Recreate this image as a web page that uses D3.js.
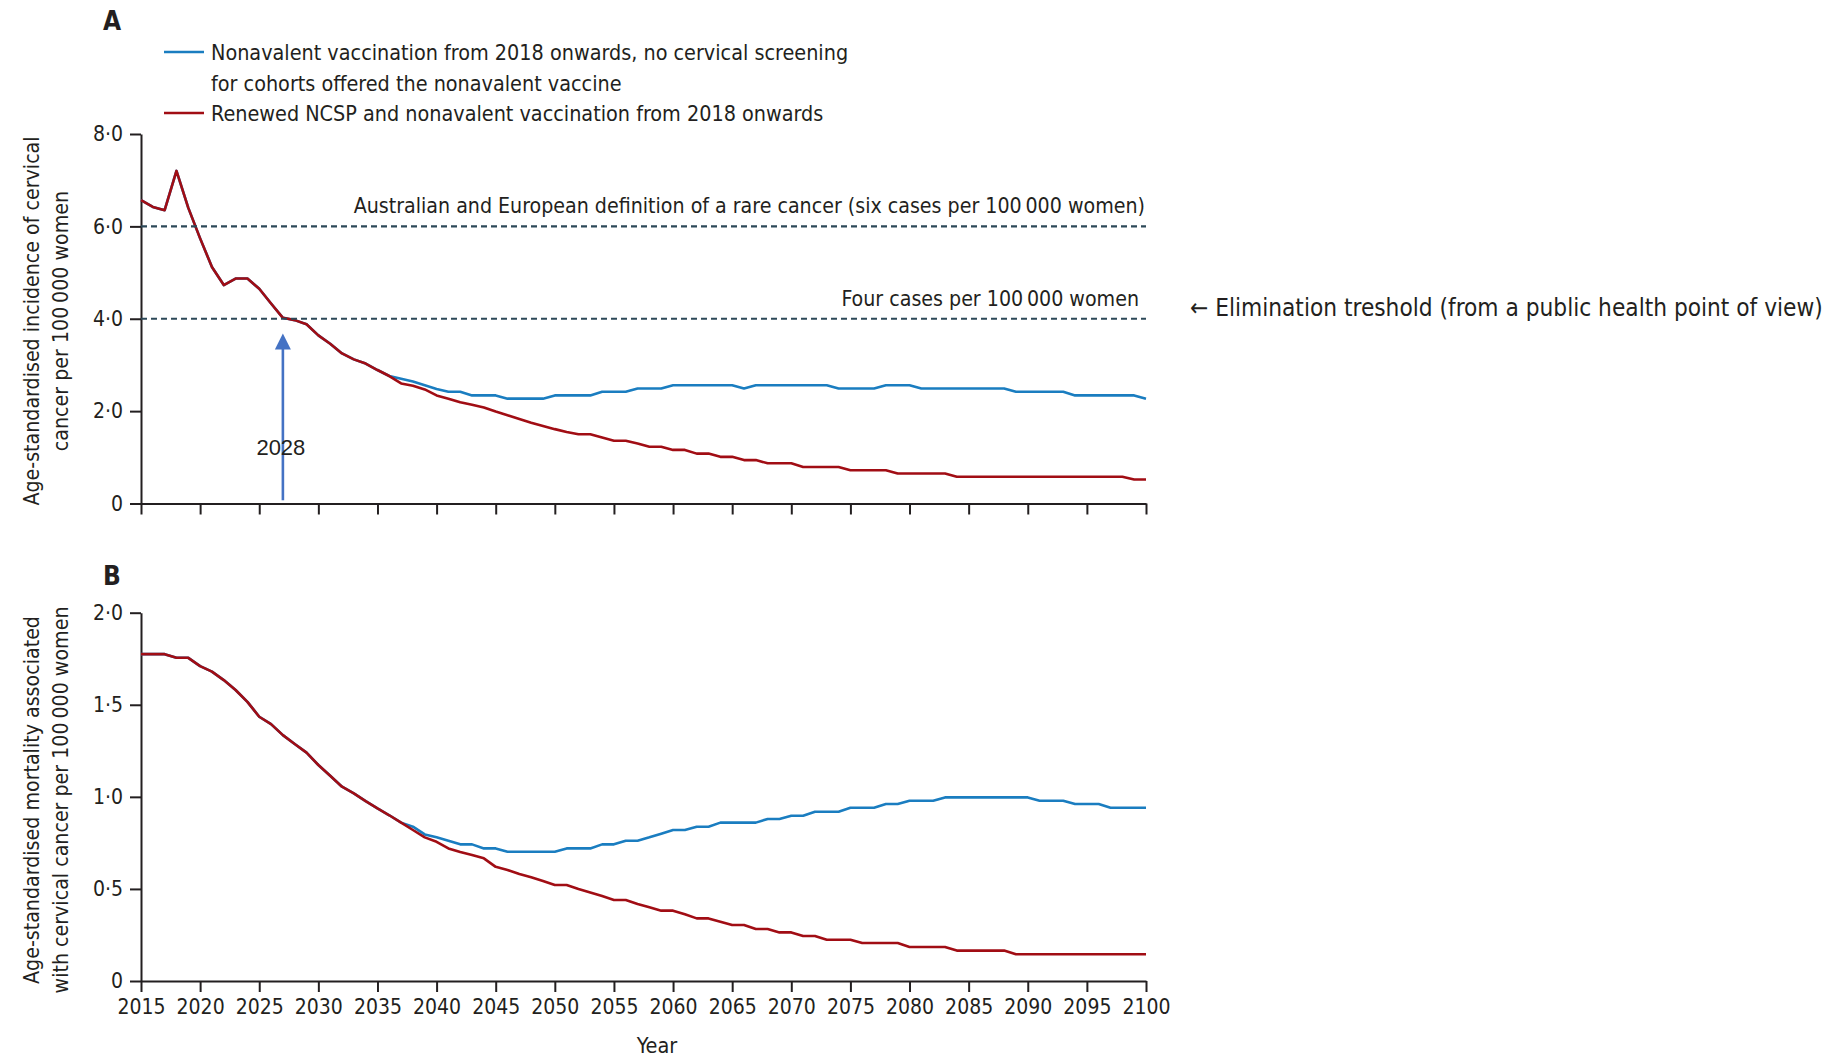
<!DOCTYPE html>
<html>
<head>
<meta charset="utf-8">
<script src="https://cdn.jsdelivr.net/npm/d3@7"></script>
<style>
  body { margin: 0; background: #fff; }
  text { font-family: "DejaVu Sans Condensed", "Liberation Sans Narrow", sans-serif; fill: #231f20; }
</style>
</head>
<body>
<script>
// Years of the projection
const years = [
  2015, 2016, 2017, 2018, 2019, 2020, 2021, 2022, 2023, 2024,
  2025, 2026, 2027, 2028, 2029, 2030, 2031, 2032, 2033, 2034,
  2035, 2036, 2037, 2038, 2039, 2040, 2041, 2042, 2043, 2044,
  2045, 2046, 2047, 2048, 2049, 2050, 2051, 2052, 2053, 2054,
  2055, 2056, 2057, 2058, 2059, 2060, 2061, 2062, 2063, 2064,
  2065, 2066, 2067, 2068, 2069, 2070, 2071, 2072, 2073, 2074,
  2075, 2076, 2077, 2078, 2079, 2080, 2081, 2082, 2083, 2084,
  2085, 2086, 2087, 2088, 2089, 2090, 2091, 2092, 2093, 2094,
  2095, 2096, 2097, 2098, 2099, 2100
];

// A: incidence, nonavalent vaccination, no screening for vaccinated cohorts
const incidenceNoScreening = [
  6.57, 6.42, 6.35, 7.20, 6.40, 5.74, 5.12, 4.73, 4.87, 4.87,
  4.65, 4.33, 4.02, 3.97, 3.88, 3.64, 3.46, 3.25, 3.12, 3.03,
  2.89, 2.76, 2.70, 2.64, 2.56, 2.48, 2.42, 2.42, 2.34, 2.34,
  2.34, 2.27, 2.27, 2.27, 2.27, 2.34, 2.34, 2.34, 2.34, 2.42,
  2.42, 2.42, 2.49, 2.49, 2.49, 2.56, 2.56, 2.56, 2.56, 2.56,
  2.56, 2.49, 2.56, 2.56, 2.56, 2.56, 2.56, 2.56, 2.56, 2.49,
  2.49, 2.49, 2.49, 2.56, 2.56, 2.56, 2.49, 2.49, 2.49, 2.49,
  2.49, 2.49, 2.49, 2.49, 2.42, 2.42, 2.42, 2.42, 2.42, 2.34,
  2.34, 2.34, 2.34, 2.34, 2.34, 2.27
];

// A: incidence, renewed NCSP + nonavalent vaccination
const incidenceNcsp = [
  6.57, 6.42, 6.35, 7.20, 6.40, 5.74, 5.12, 4.73, 4.87, 4.87,
  4.65, 4.33, 4.02, 3.97, 3.88, 3.64, 3.46, 3.25, 3.12, 3.03,
  2.89, 2.76, 2.60, 2.55, 2.47, 2.34, 2.27, 2.19, 2.14, 2.08,
  1.99, 1.91, 1.83, 1.75, 1.68, 1.61, 1.55, 1.50, 1.50, 1.43,
  1.36, 1.36, 1.30, 1.23, 1.23, 1.16, 1.16, 1.08, 1.08, 1.01,
  1.01, 0.94, 0.94, 0.87, 0.87, 0.87, 0.79, 0.79, 0.79, 0.79,
  0.72, 0.72, 0.72, 0.72, 0.65, 0.65, 0.65, 0.65, 0.65, 0.58,
  0.58, 0.58, 0.58, 0.58, 0.58, 0.58, 0.58, 0.58, 0.58, 0.58,
  0.58, 0.58, 0.58, 0.58, 0.52, 0.52
];

// B: mortality, nonavalent vaccination, no screening for vaccinated cohorts
const mortalityNoScreening = [
  1.775, 1.775, 1.775, 1.755, 1.755, 1.71, 1.68, 1.634, 1.58, 1.516,
  1.435, 1.395, 1.335, 1.287, 1.24, 1.173, 1.115, 1.055, 1.019, 0.977,
  0.937, 0.90, 0.86, 0.838, 0.796, 0.78, 0.762, 0.742, 0.742, 0.72,
  0.72, 0.702, 0.702, 0.702, 0.702, 0.702, 0.72, 0.72, 0.72, 0.742,
  0.742, 0.762, 0.762, 0.78, 0.80, 0.82, 0.82, 0.838, 0.838, 0.86,
  0.86, 0.86, 0.86, 0.88, 0.88, 0.897, 0.897, 0.919, 0.919, 0.919,
  0.941, 0.941, 0.941, 0.961, 0.961, 0.979, 0.979, 0.979, 0.997, 0.997,
  0.997, 0.997, 0.997, 0.997, 0.997, 0.997, 0.979, 0.979, 0.979, 0.961,
  0.961, 0.961, 0.941, 0.941, 0.941, 0.941
];

// B: mortality, renewed NCSP + nonavalent vaccination
const mortalityNcsp = [
  1.775, 1.775, 1.775, 1.755, 1.755, 1.71, 1.68, 1.634, 1.58, 1.516,
  1.435, 1.395, 1.335, 1.287, 1.24, 1.173, 1.115, 1.055, 1.019, 0.977,
  0.937, 0.90, 0.86, 0.82, 0.78, 0.756, 0.72, 0.70, 0.684, 0.666,
  0.62, 0.603, 0.581, 0.563, 0.543, 0.521, 0.521, 0.50, 0.481, 0.461,
  0.44, 0.44, 0.418, 0.40, 0.382, 0.382, 0.362, 0.34, 0.34, 0.322,
  0.304, 0.304, 0.282, 0.282, 0.264, 0.264, 0.244, 0.244, 0.224, 0.224,
  0.224, 0.206, 0.206, 0.206, 0.206, 0.185, 0.185, 0.185, 0.185, 0.165,
  0.165, 0.165, 0.165, 0.165, 0.145, 0.145, 0.145, 0.145, 0.145, 0.145,
  0.145, 0.145, 0.145, 0.145, 0.145, 0.145
];

const yearTicks = [2015, 2020, 2025, 2030, 2035, 2040, 2045, 2050, 2055, 2060,
  2065, 2070, 2075, 2080, 2085, 2090, 2095, 2100];
const incidenceTicks = [0, 2, 4, 6, 8];
const mortalityTicks = [0, 0.5, 1, 1.5, 2];

const thresholdValues = [6, 4];
const thresholdLabels = [
  "Australian and European definition of a rare cancer (six cases per 100\u2009000 women)",
  "Four cases per 100\u2009000 women"
];
const eliminationNote = "\u2190 Elimination treshold (from a public health point of view)";

// arrow marking when incidence drops under four cases
const arrowYear = 2027;
const arrowFrom = 0.07;
const arrowTo = 3.68;
const arrowLabel = "2028";

const legendLabels = [
  ["Nonavalent vaccination from 2018 onwards, no cervical screening",
   "for cohorts offered the nonavalent vaccine"],
  ["Renewed NCSP and nonavalent vaccination from 2018 onwards"]
];
const blue = "#1a7dc0";
const red = "#a10d14";
const ink = "#231f20";

const width = 1847, height = 1061;
const svg = d3.select("body").append("svg")
  .attr("width", width)
  .attr("height", height);

const x = d3.scaleLinear().domain([2015, 2100]).range([141, 1146]);
const yTop = d3.scaleLinear().domain([0, 8]).range([503.5, 134]);
const yBot = d3.scaleLinear().domain([0, 2]).range([981, 612.7]);

const fmt = d => d === 0 ? "0" : d.toFixed(1).replace(".", "\u00b7");

function styleAxis(g) {
  g.select(".domain").attr("stroke", ink).attr("stroke-width", 2);
  g.selectAll(".tick line").attr("stroke", ink).attr("stroke-width", 2);
  g.selectAll(".tick text")
    .attr("fill", ink)
    .style("font-family", "'DejaVu Sans Condensed', sans-serif")
    .style("font-size", "21px");
}

function drawPanel(y, yTicks, blueVals, redVals, showYears) {
  const g = svg.append("g");

  g.append("g")
    .attr("transform", `translate(0,${y(0)})`)
    .call(d3.axisBottom(x).tickValues(yearTicks).tickSize(11).tickSizeOuter(0)
      .tickPadding(7).tickFormat(showYears ? d3.format("d") : ""))
    .call(styleAxis);

  g.append("g")
    .attr("transform", `translate(${x(2015)},0)`)
    .call(d3.axisLeft(y).tickValues(yTicks).tickSize(11).tickSizeOuter(0)
      .tickPadding(7).tickFormat(fmt))
    .call(styleAxis);

  const line = vals => d3.line()
    .x((d, i) => x(years[i]))
    .y(d => y(d))(vals);

  g.append("path")
    .attr("d", line(blueVals))
    .attr("fill", "none")
    .attr("stroke", blue)
    .attr("stroke-width", 2.6)
    .attr("stroke-linejoin", "round");

  g.append("path")
    .attr("d", line(redVals))
    .attr("fill", "none")
    .attr("stroke", red)
    .attr("stroke-width", 2.6)
    .attr("stroke-linejoin", "round");

  return g;
}

// Panel A
const gA = drawPanel(yTop, incidenceTicks, incidenceNoScreening, incidenceNcsp, false);

thresholdValues.forEach(v => {
  gA.append("line")
    .attr("x1", x(2015)).attr("x2", x(2100))
    .attr("y1", yTop(v)).attr("y2", yTop(v))
    .attr("stroke", "#2c4858")
    .attr("stroke-width", 2.2)
    .attr("stroke-dasharray", "6,4");
});
gA.append("text")
  .attr("x", 1145).attr("y", yTop(6) - 13)
  .attr("text-anchor", "end")
  .style("font-size", "21.2px")
  .text(thresholdLabels[0]);
gA.append("text")
  .attr("x", 1139).attr("y", yTop(4) - 13)
  .attr("text-anchor", "end")
  .style("font-size", "21.2px")
  .text(thresholdLabels[1]);
svg.append("text")
  .attr("x", 1190).attr("y", 316)
  .style("font-size", "24.2px")
  .text(eliminationNote);

// arrow 2028
const arrowColor = "#4472c4";
gA.append("line")
  .attr("x1", x(arrowYear)).attr("x2", x(arrowYear))
  .attr("y1", yTop(arrowFrom)).attr("y2", yTop(arrowTo) + 14)
  .attr("stroke", arrowColor)
  .attr("stroke-width", 2.6);
gA.append("path")
  .attr("d", `M${x(arrowYear)},${yTop(arrowTo)} l8,16 l-16,0 z`)
  .attr("fill", arrowColor);
gA.append("text")
  .attr("x", x(arrowYear) - 2).attr("y", 455)
  .attr("text-anchor", "middle")
  .style("font-family", "'Liberation Sans', Arial, sans-serif")
  .style("font-size", "22px")
  .text(arrowLabel);

// Panel B
drawPanel(yBot, mortalityTicks, mortalityNoScreening, mortalityNcsp, true);

// panel letters
svg.append("text").attr("x", 112).attr("y", 30)
  .attr("text-anchor", "middle")
  .style("font-size", "26px").style("font-weight", "bold")
  .text("A");
svg.append("text").attr("x", 112).attr("y", 585)
  .attr("text-anchor", "middle")
  .style("font-size", "26px").style("font-weight", "bold")
  .text("B");

// legend
const legendRows = [
  { color: blue, lines: legendLabels[0], y: 52 },
  { color: red, lines: legendLabels[1], y: 113 }
];
legendRows.forEach(r => {
  svg.append("line")
    .attr("x1", 164).attr("x2", 204)
    .attr("y1", r.y).attr("y2", r.y)
    .attr("stroke", r.color).attr("stroke-width", 2.6);
  r.lines.forEach((t, i) => {
    svg.append("text")
      .attr("x", 211).attr("y", r.y + 8 + i * 30.5)
      .style("font-size", "21.4px")
      .text(t);
  });
});

// y axis titles
const yTitles = [
  { lines: ["Age-standardised incidence of cervical", "cancer per 100\u2009000 women"], cy: 321 },
  { lines: ["Age-standardised mortality associated", "with cervical cancer per 100\u2009000 women"], cy: 800 }
];
yTitles.forEach(t => {
  t.lines.forEach((s, i) => {
    svg.append("text")
      .attr("transform", `translate(${39 + i * 29},${t.cy}) rotate(-90)`)
      .attr("text-anchor", "middle")
      .style("font-size", "21.2px")
      .text(s);
  });
});

// x axis title
svg.append("text")
  .attr("x", 657).attr("y", 1053)
  .attr("text-anchor", "middle")
  .style("font-size", "21.5px")
  .text("Year");
</script>
</body>
</html>
